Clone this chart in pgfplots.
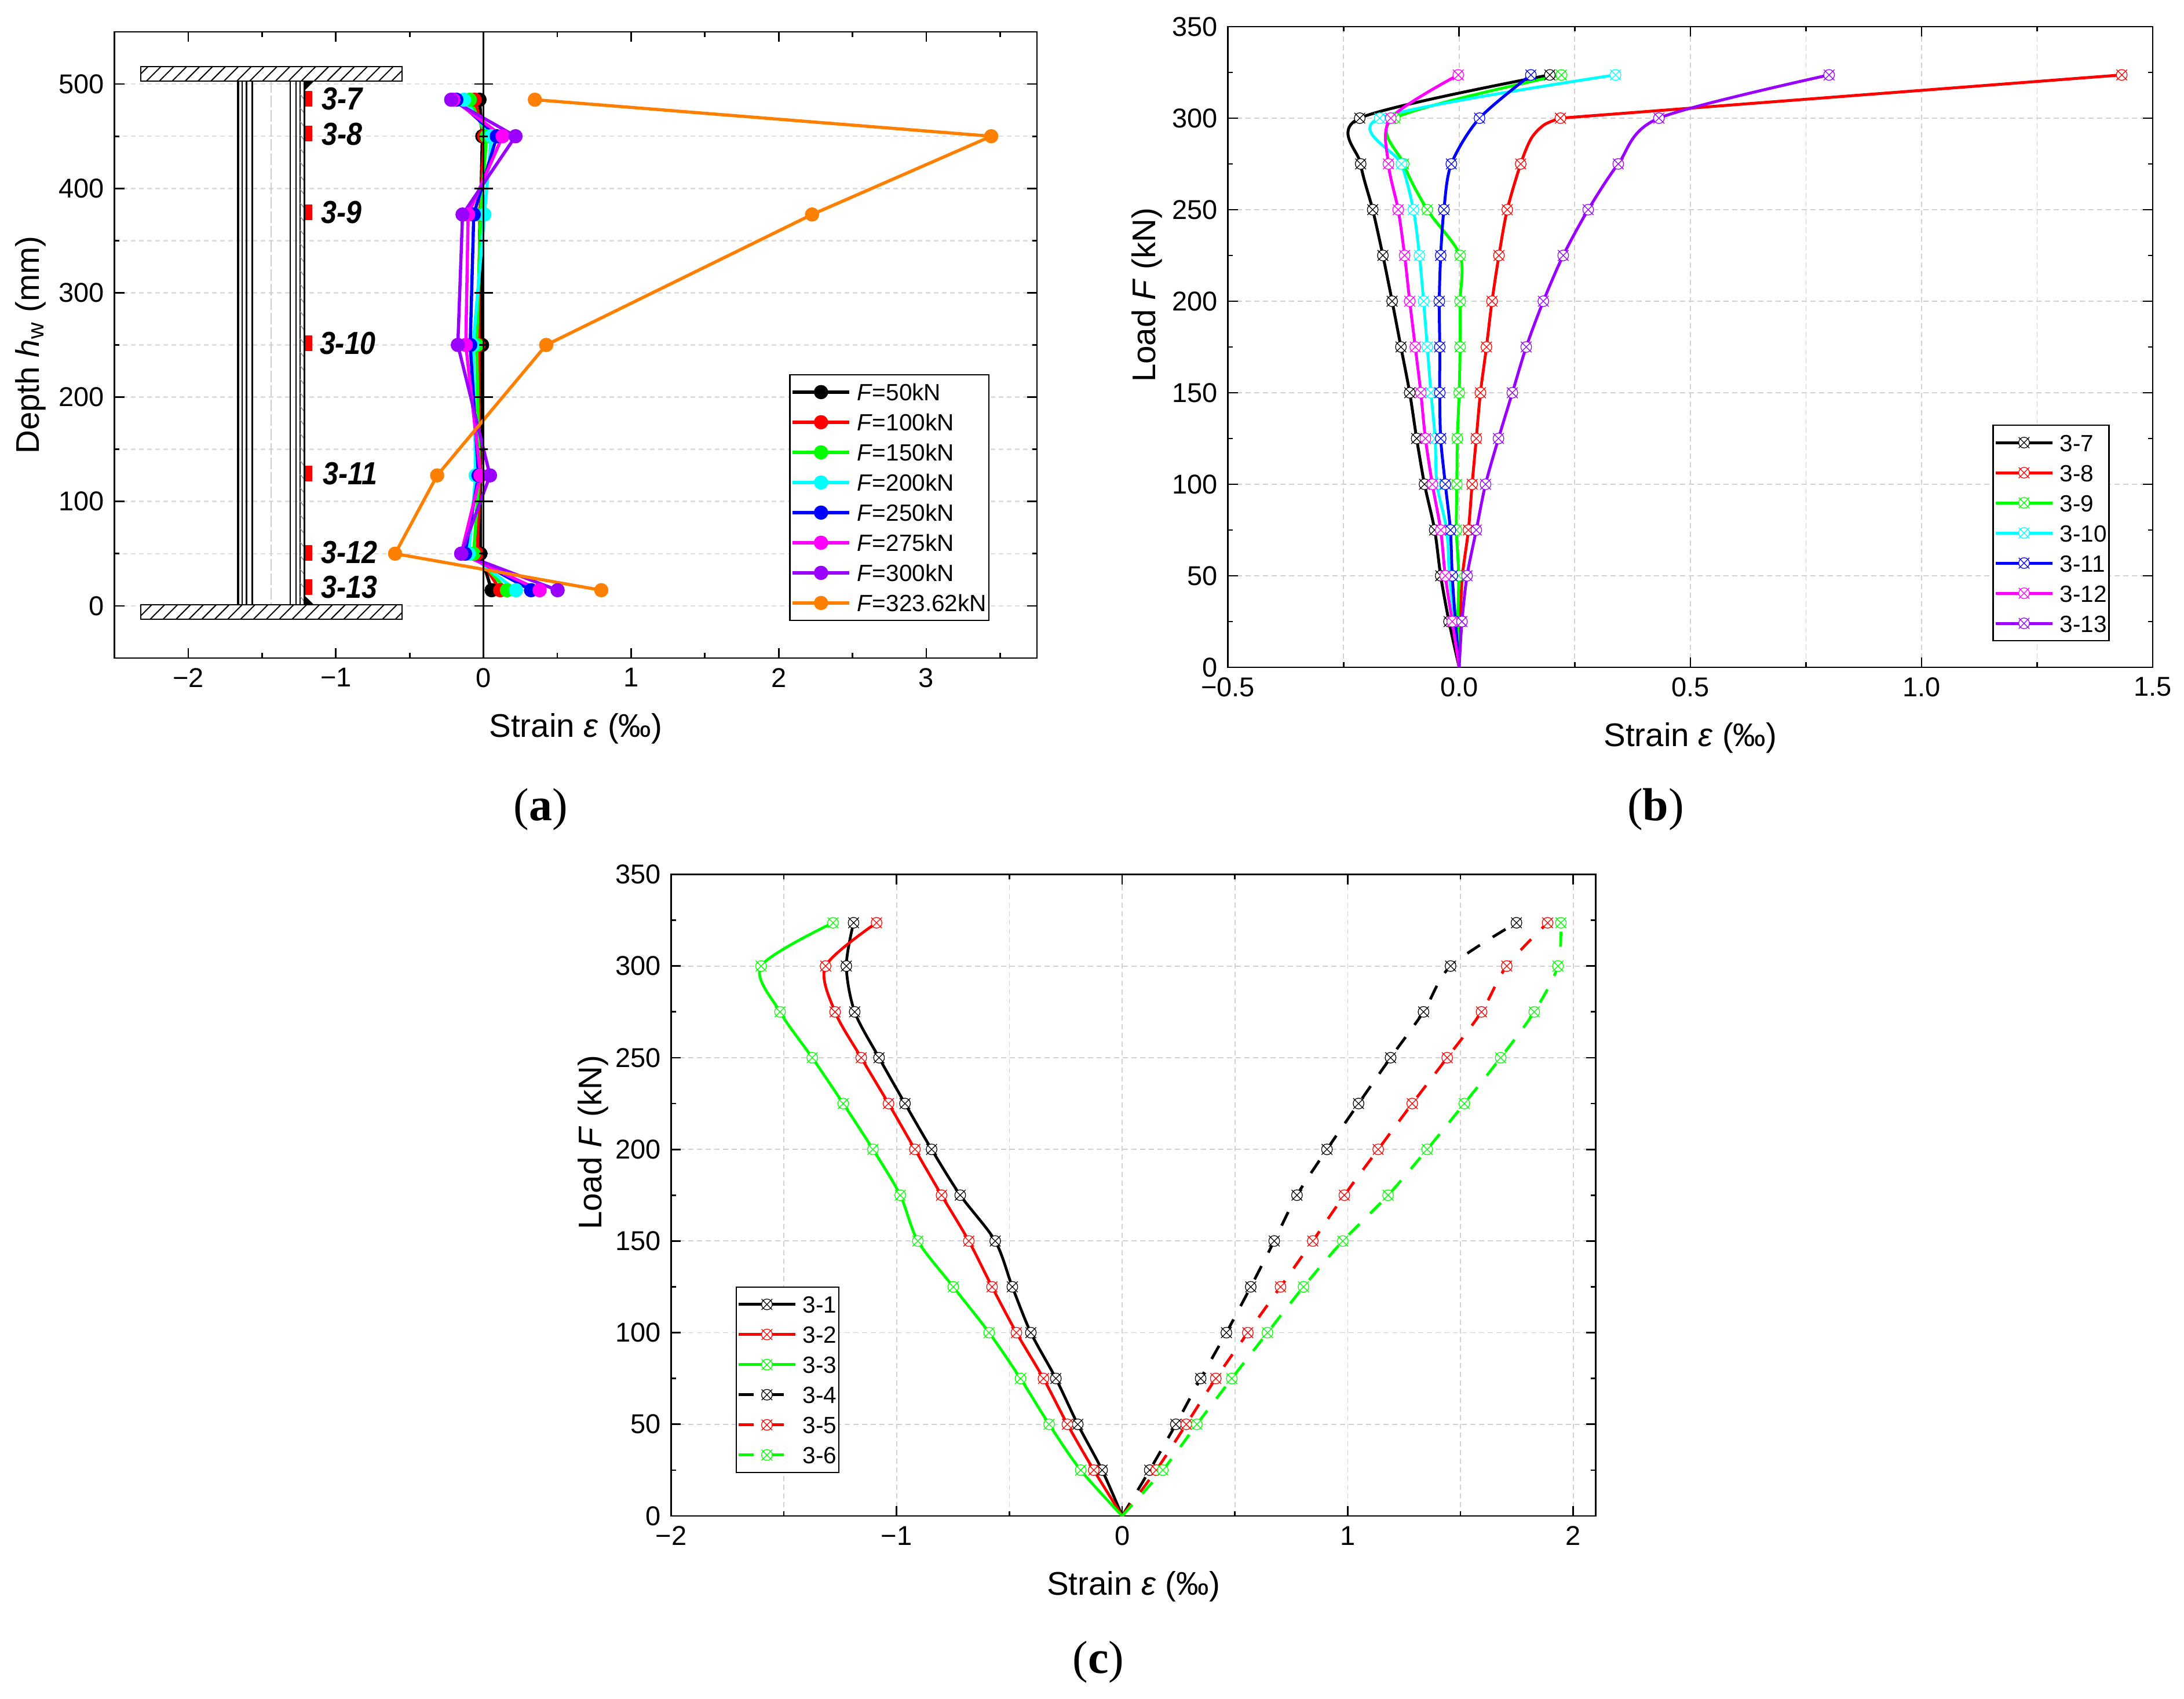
\documentclass[border=0pt]{standalone}
\usepackage{fontspec}
\usepackage{pgfplots}
\usepackage{pgfplotstable}
\pgfplotsset{compat=1.18}
\usetikzlibrary{patterns.meta}
\setmainfont{Liberation Sans}
\newfontfamily\capfont{Liberation Serif}
\newfontfamily\tagfont[FakeStretch=0.88]{Liberation Sans}

\definecolor{cgreen}{HTML}{00FF00}
\definecolor{ccyan}{HTML}{00FFFF}
\definecolor{cblue}{HTML}{0000FF}
\definecolor{cmag}{HTML}{FF00FF}
\definecolor{cpurp}{HTML}{9900FF}
\definecolor{corange}{HTML}{FF8000}
\definecolor{cred}{HTML}{FF0000}

% circle with a cross through it
\pgfdeclareplotmark{ox}{%
  \pgfpathcircle{\pgfqpoint{0pt}{0pt}}{\pgfplotmarksize}%
  \pgfusepathqfillstroke
  \pgfpathmoveto{\pgfqpoint{-\pgfplotmarksize}{-\pgfplotmarksize}}%
  \pgfpathlineto{\pgfqpoint{\pgfplotmarksize}{\pgfplotmarksize}}%
  \pgfpathmoveto{\pgfqpoint{-\pgfplotmarksize}{\pgfplotmarksize}}%
  \pgfpathlineto{\pgfqpoint{\pgfplotmarksize}{-\pgfplotmarksize}}%
  \pgfusepathqstroke}

\pgfplotstableread{
depth f50 f100 f150 f200 f250 f275 f300 f324
485 -0.027 -0.060 -0.093 -0.132 -0.184 -0.204 -0.219 0.348
450 -0.008 0.005 0.021 0.053 0.090 0.129 0.217 3.440
375 -0.020 -0.025 -0.020 0.006 -0.066 -0.104 -0.142 2.226
250 -0.010 -0.034 -0.046 -0.070 -0.090 -0.120 -0.174 0.425
125 -0.020 -0.025 -0.030 -0.053 -0.034 -0.021 0.044 -0.314
50 -0.021 -0.043 -0.067 -0.100 -0.125 -0.151 -0.151 -0.599
15 0.055 0.113 0.159 0.220 0.322 0.380 0.502 0.798
}\tabA

\pgfplotstableread{
load s7 s9 s10 s11 s12 s13
0 0 0 0 0 0 0
25 -0.022 -0.003 -0.010 -0.008 -0.015 0.006
50 -0.040 -0.001 -0.021 -0.015 -0.030 0.017
75 -0.053 -0.006 -0.027 -0.019 -0.040 0.037
100 -0.075 -0.005 -0.048 -0.030 -0.058 0.057
125 -0.092 -0.004 -0.052 -0.040 -0.073 0.085
150 -0.107 0.000 -0.061 -0.042 -0.083 0.115
175 -0.126 0.002 -0.069 -0.042 -0.095 0.145
200 -0.145 0.002 -0.077 -0.043 -0.107 0.182
225 -0.165 0.002 -0.086 -0.040 -0.118 0.225
250 -0.187 -0.069 -0.099 -0.033 -0.132 0.279
275 -0.213 -0.120 -0.125 -0.017 -0.153 0.344
300 -0.215 -0.139 -0.172 0.044 -0.148 0.432
323.62 0.196 0.221 0.338 0.155 -0.002 0.800
}\tabB

% 3-8: rows 289 and 296.4 are read off the curve between the 275 and 300 marks
\pgfplotstableread{
load s8
0 0
25 0.002
50 0.007
75 0.020
100 0.028
125 0.037
150 0.046
175 0.059
200 0.071
225 0.086
250 0.104
275 0.133
289 0.156
296.4 0.184
300 0.219
}\tabBred

\pgfplotstableread{
load s1 s2 s3 s4 s5 s6
0 0 0 0 0 0 0
25 -0.089 -0.126 -0.184 0.122 0.151 0.180
50 -0.197 -0.243 -0.324 0.238 0.284 0.331
75 -0.294 -0.349 -0.451 0.348 0.415 0.486
100 -0.405 -0.469 -0.590 0.462 0.557 0.644
125 -0.487 -0.577 -0.749 0.570 0.702 0.804
150 -0.563 -0.680 -0.906 0.674 0.845 0.978
175 -0.718 -0.801 -0.984 0.775 0.985 1.179
200 -0.845 -0.919 -1.105 0.908 1.135 1.352
225 -0.963 -1.036 -1.237 1.048 1.286 1.517
250 -1.078 -1.157 -1.374 1.190 1.441 1.678
275 -1.186 -1.273 -1.517 1.336 1.593 1.827
300 -1.223 -1.315 -1.601 1.456 1.705 1.932
323.62 -1.191 -1.089 -1.282 1.748 1.886 1.945
}\tabC

\pgfplotsset{
  base/.style={
    scale only axis, tick align=inside,
    axis line style={line width=0.55pt},
    every tick/.style={black, line width=0.55pt},
    major tick length=3.4pt, minor tick length=1.7pt,
    ticklabel style={font=\fontsize{9.4}{11}\selectfont},
    label style={font=\fontsize{11.3}{13}\selectfont},
    legend cell align=left,
    legend image code/.code={\draw[##1, mark repeat=1, mark indices={2}] plot coordinates {(0pt,0pt)(9.85pt,0pt)(19.7pt,0pt)};},
  },
  leg/.style={
    legend style={font=\fontsize{8.1}{9}\selectfont, draw=black, line width=0.5pt,
      inner xsep=0.3pt, inner ysep=2.5pt, row sep=3.4pt,
      nodes={inner xsep=0.5pt, inner ysep=0.5pt, text height=6pt, text depth=0pt},
      /tikz/every odd column/.append style={column sep=1.5pt}},
  },
  gridc/.style={
    major grid style={dash pattern=on 1.8pt off 1.2pt, color=black!18, line width=0.35pt},
    minor grid style={dash pattern=on 1.8pt off 1.2pt, color=black!18, line width=0.35pt},
  },
  pb/.style={color=#1, line width=1pt, smooth, mark=ox, mark size=1.85pt, mark indices={2,3,...,14},
    mark options={solid, fill=white, line width=0.25pt}},
  pc/.style={color=#1, line width=0.95pt, smooth, mark=ox, mark size=1.85pt, mark indices={2,3,...,14},
    mark options={solid, fill=white, line width=0.25pt}},
  pcd/.style={pc=#1, dash pattern=on 5.2pt off 5.2pt},
  pa/.style={color=#1, line width=1.1pt, mark=*, mark size=1.9pt, mark options={solid}},
}

\begin{document}
\begin{tikzpicture}
\path[use as bounding box] (0pt,0pt) rectangle (754pt,586.4pt);

% (a)
\begin{axis}[base, leg, at={(39.54pt,359.2pt)}, anchor=south west, width=318.46pt, height=216.2pt,
  xmin=-2.5, xmax=3.75, ymin=-50, ymax=550,
  xtick={-2,-1,0,1,2,3}, xticklabels={−2,−1,0,1,2,3}, minor xtick={-2.5,-1.5,-0.5,0.5,1.5,2.5,3.5},
  ytick={0,100,200,300,400,500}, yticklabels={0,100,200,300,400,500}, minor ytick={-50,50,150,250,350,450,550},
  ymajorgrids, yminorgrids,
  major grid style={dash pattern=on 1.7pt off 1.1pt, color=black!13, line width=0.5pt},
  minor grid style={dash pattern=on 1.7pt off 1.1pt, color=black!13, line width=0.5pt},
  xlabel={Strain \textit{ε} (‰)}, ylabel={Depth \textit{h}\textsubscript{w} (mm)},
  xlabel style={at={(axis description cs:0.5,-0.113)}, anchor=center},
  ylabel style={at={(axis description cs:-0.091,0.5)}, anchor=center},
  legend style={at={(axis description cs:0.7315,0.4536)}, anchor=north west},
]
% I-section sketch
\draw[black!20, line width=0.35pt, dash pattern=on 4pt off 1pt] (axis cs:-1.44,502.9)--(axis cs:-1.44,0.9);
\draw[black, line width=0.5pt] (axis cs:-1.664,502.9)--(axis cs:-1.664,0.9);
\draw[black, line width=0.3pt] (axis cs:-1.656,502.9)--(axis cs:-1.656,0.9);
\draw[black, line width=0.3pt] (axis cs:-1.635,502.9)--(axis cs:-1.635,0.9);
\draw[black, line width=0.5pt] (axis cs:-1.605,502.9)--(axis cs:-1.605,0.9);
\draw[black, line width=0.5pt] (axis cs:-1.567,502.9)--(axis cs:-1.567,0.9);
\draw[black, line width=0.5pt] (axis cs:-1.310,502.9)--(axis cs:-1.310,0.9);
\draw[black, line width=0.5pt] (axis cs:-1.271,502.9)--(axis cs:-1.271,0.9);
\draw[black, line width=0.3pt] (axis cs:-1.242,502.9)--(axis cs:-1.242,0.9);
\pgfplotsinvokeforeach{490,477,...,10}{
  \draw[black!40, line width=0.35pt] (axis cs:-1.242,#1)--(axis cs:-1.213,#1-5);
}
\draw[black, line width=0.5pt] (axis cs:-1.213,502.9)--(axis cs:-1.213,0.9);
\fill[black] (axis cs:-1.213,502.9)--(axis cs:-1.148,502.9)--(axis cs:-1.213,493.7)--cycle;
\fill[black] (axis cs:-1.213,0.9)--(axis cs:-1.148,0.9)--(axis cs:-1.213,10)--cycle;
\fill[white] (axis cs:-2.323,502.9) rectangle (axis cs:-0.553,516.7);
\draw[black, line width=0.4pt, pattern={Lines[angle=45,distance=3.15pt,line width=0.4pt]}]
  (axis cs:-2.323,502.9) rectangle (axis cs:-0.553,516.7);
\fill[white] (axis cs:-2.323,-13) rectangle (axis cs:-0.553,0.9);
\draw[black, line width=0.4pt, pattern={Lines[angle=45,distance=3.15pt,line width=0.4pt]}]
  (axis cs:-2.323,-13) rectangle (axis cs:-0.553,0.9);
% strain gauges
\fill[red] (axis cs:-1.209,478.5) rectangle (axis cs:-1.161,493.5);
\fill[red] (axis cs:-1.209,445) rectangle (axis cs:-1.161,460);
\fill[red] (axis cs:-1.209,369.5) rectangle (axis cs:-1.161,384.5);
\fill[red] (axis cs:-1.209,244.2) rectangle (axis cs:-1.161,259.2);
\fill[red] (axis cs:-1.209,119.1) rectangle (axis cs:-1.161,134.1);
\fill[red] (axis cs:-1.209,43.5) rectangle (axis cs:-1.161,58.5);
\fill[red] (axis cs:-1.209,10.5) rectangle (axis cs:-1.161,25.5);
\begin{scope}[every node/.style={font=\tagfont\bfseries\itshape\fontsize{11}{12}\selectfont, inner sep=0pt}]
\node at (axis cs:-0.958,486) {3-7};
\node at (axis cs:-0.958,452) {3-8};
\node at (axis cs:-0.962,377) {3-9};
\node at (axis cs:-0.919,251.7) {3-10};
\node at (axis cs:-0.903,126.6) {3-11};
\node at (axis cs:-0.909,51) {3-12};
\node at (axis cs:-0.909,18) {3-13};
\end{scope}
\addplot[pa=black] table[x=f50,y=depth] {\tabA};
\addplot[pa=cred] table[x=f100,y=depth] {\tabA};
\addplot[pa=cgreen] table[x=f150,y=depth] {\tabA};
\addplot[pa=ccyan] table[x=f200,y=depth] {\tabA};
\addplot[pa=cblue] table[x=f250,y=depth] {\tabA};
\addplot[pa=cmag] table[x=f275,y=depth] {\tabA};
\addplot[pa=cpurp] table[x=f300,y=depth] {\tabA};
\addplot[pa=corange] table[x=f324,y=depth] {\tabA};
\legend{\textit{F}=50kN,\textit{F}=100kN,\textit{F}=150kN,\textit{F}=200kN,\textit{F}=250kN,\textit{F}=275kN,\textit{F}=300kN,\textit{F}=323.62kN}
\end{axis}
% the zero line of (a), with its own ticks, lies over the curves
\begin{axis}[scale only axis, at={(39.54pt,359.2pt)}, anchor=south west, width=318.46pt, height=216.2pt,
  xmin=-2.5, xmax=3.75, ymin=-50, ymax=550,
  hide x axis, axis y line=center, axis line style={-, line width=0.55pt},
  every tick/.style={black, line width=0.55pt},
  tick align=center, major tick length=6.4pt, minor tick length=3pt,
  ytick={0,100,200,300,400,500}, minor ytick={50,150,250,350,450}, yticklabels={},
]
\end{axis}

% (b)
\begin{axis}[base, leg, gridc, at={(423.94pt,356pt)}, anchor=south west, width=319.26pt, height=221.2pt,
  xmin=-0.5, xmax=1.5, ymin=0, ymax=350,
  xtick={-0.5,0,0.5,1,1.5}, xticklabels={−0.5,0.0,0.5,1.0,1.5}, minor xtick={-0.25,0.25,0.75,1.25},
  ytick={0,50,...,350}, yticklabels={0,50,100,150,200,250,300,350}, minor ytick={25,75,...,325},
  xmajorgrids, xminorgrids, ymajorgrids,
  xlabel={Strain \textit{ε} (‰)}, ylabel={Load \textit{F} (kN)},
  xlabel style={at={(axis description cs:0.5,-0.11)}, anchor=center},
  ylabel style={at={(axis description cs:-0.0875,0.581)}, anchor=center},
  legend style={at={(axis description cs:0.8267,0.379)}, anchor=north west},
]
\addplot[pb=black] table[x=s7,y=load] {\tabB};
\addplot[pb=cred, mark indices={2,3,...,12,15}] table[x=s8,y=load] {\tabBred};
\addplot[pb=cred, forget plot, sharp plot, mark indices={2}] coordinates {(0.219,300)(1.433,323.62)};
\addplot[pb=cgreen] table[x=s9,y=load] {\tabB};
\addplot[pb=ccyan] table[x=s10,y=load] {\tabB};
\addplot[pb=cblue] table[x=s11,y=load] {\tabB};
\addplot[pb=cmag] table[x=s12,y=load] {\tabB};
\addplot[pb=cpurp] table[x=s13,y=load] {\tabB};
\legend{3-7,3-8,3-9,3-10,3-11,3-12,3-13}
\end{axis}

% (c)
\begin{axis}[base, leg, gridc, at={(231.68pt,63pt)}, anchor=south west, width=319.26pt, height=221.5pt,
  xmin=-2, xmax=2.1, ymin=0, ymax=350,
  xtick={-2,-1,0,1,2}, xticklabels={−2,−1,0,1,2}, minor xtick={-1.5,-0.5,0.5,1.5},
  ytick={0,50,...,350}, yticklabels={0,50,100,150,200,250,300,350}, minor ytick={25,75,...,325},
  xmajorgrids, xminorgrids, ymajorgrids,
  xlabel={Strain \textit{ε} (‰)}, ylabel={Load \textit{F} (kN)},
  xlabel style={at={(axis description cs:0.5,-0.11)}, anchor=center},
  ylabel style={at={(axis description cs:-0.084,0.582)}, anchor=center},
  legend style={at={(axis description cs:0.0696,0.358)}, anchor=north west},
]
\addplot[pc=black] table[x=s1,y=load] {\tabC};
\addplot[pc=cred] table[x=s2,y=load] {\tabC};
\addplot[pc=cgreen] table[x=s3,y=load] {\tabC};
\addplot[pcd=black] table[x=s4,y=load] {\tabC};
\addplot[pcd=cred] table[x=s5,y=load] {\tabC};
\addplot[pcd=cgreen] table[x=s6,y=load] {\tabC};
\legend{3-1,3-2,3-3,3-4,3-5,3-6}
\end{axis}

% panel captions
\begin{scope}[every node/.style={font=\capfont\fontsize{16}{18}\selectfont, inner sep=0pt}]
\node at (186.6pt,307pt) {(\textbf{a})};
\node at (571.6pt,307pt) {(\textbf{b})};
\node at (379.2pt,12.6pt) {(\textbf{c})};
\end{scope}
\end{tikzpicture}
\end{document}
